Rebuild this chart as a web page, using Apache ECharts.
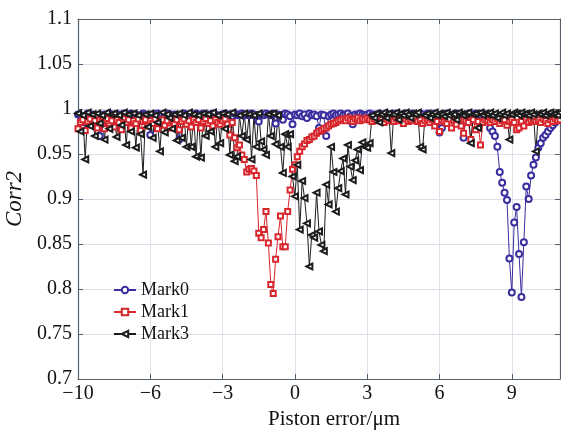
<!DOCTYPE html>
<html>
<head>
<meta charset="utf-8">
<script src="https://cdn.jsdelivr.net/npm/echarts@6/dist/echarts.min.js"></script>
<style>
  html, body { margin: 0; padding: 0; background: #fff; }
  #chart { width: 561px; height: 430px; }
</style>
</head>
<body>
<div id="chart"></div>
<script>
var xs = [
  -9,-8.9,-8.8,-8.7,-8.6,-8.5,-8.4,-8.3,-8.2,-8.1,
  -8,-7.9,-7.8,-7.7,-7.6,-7.5,-7.4,-7.3,-7.2,-7.1,
  -7,-6.9,-6.8,-6.7,-6.6,-6.5,-6.4,-6.3,-6.2,-6.1,
  -6,-5.9,-5.8,-5.7,-5.6,-5.5,-5.4,-5.3,-5.2,-5.1,
  -5,-4.9,-4.8,-4.7,-4.6,-4.5,-4.4,-4.3,-4.2,-4.1,
  -4,-3.9,-3.8,-3.7,-3.6,-3.5,-3.4,-3.3,-3.2,-3.1,
  -3,-2.9,-2.8,-2.7,-2.6,-2.5,-2.4,-2.3,-2.2,-2.1,
  -2,-1.9,-1.8,-1.7,-1.6,-1.5,-1.4,-1.3,-1.2,-1.1,
  -1,-0.9,-0.8,-0.7,-0.6,-0.5,-0.4,-0.3,-0.2,-0.1,
  0,0.1,0.2,0.3,0.4,0.5,0.6,0.7,0.8,0.9,
  1,1.1,1.2,1.3,1.4,1.5,1.6,1.7,1.8,1.9,
  2,2.1,2.2,2.3,2.4,2.5,2.6,2.7,2.8,2.9,
  3,3.1,3.2,3.3,3.4,3.5,3.6,3.7,3.8,3.9,
  4,4.1,4.2,4.3,4.4,4.5,4.6,4.7,4.8,4.9,
  5,5.1,5.2,5.3,5.4,5.5,5.6,5.7,5.8,5.9,
  6,6.1,6.2,6.3,6.4,6.5,6.6,6.7,6.8,6.9,
  7,7.1,7.2,7.3,7.4,7.5,7.6,7.7,7.8,7.9,
  8,8.1,8.2,8.3,8.4,8.5,8.6,8.7,8.8,8.9,
  9,9.1,9.2,9.3,9.4,9.5,9.6,9.7,9.8,9.9,
  10,10.1,10.2,10.3,10.4,10.5,10.6,10.7,10.8,10.9,11
];

var mark0 = [
  .994,.993,.979,.992,.995,.993,.994,.990,.992,.970,
  .993,.994,.992,.995,.993,.994,.991,.994,.993,.995,
  .994,.992,.995,.993,.994,.990,.993,.995,.994,.992,
  .971,.993,.994,.995,.992,.994,.993,.995,.994,.993,
  .994,.992,.966,.993,.995,.994,.992,.994,.993,.995,
  .993,.994,.995,.992,.994,.993,.995,.994,.990,.993,
  .994,.995,.993,.994,.992,.995,.993,.994,.995,.993,
  .994,.993,.995,.994,.992,.986,.994,.993,.995,.994,
  .993,.995,.984,.994,.993,.988,.995,.994,.992,.983,
  .994,.993,.995,.992,.994,.990,.995,.993,.994,.992,
  .979,.994,.993,.970,.992,.994,.995,.993,.994,.995,
  .993,.994,.995,.992,.983,.994,.993,.995,.994,.993,
  .994,.995,.993,.994,.992,.995,.994,.993,.995,.994,
  .993,.994,.995,.993,.994,.992,.995,.994,.993,.995,
  .994,.993,.995,.994,.992,.995,.993,.994,.995,.993,
  .974,.979,.994,.995,.993,.983,.994,.995,.993,.994,
  .968,.993,.995,.994,.992,.995,.994,.993,.995,.990,
  .993,.979,.975,.970,.958,.930,.918,.907,.899,.834,
  .796,.874,.891,.839,.791,.852,.914,.900,.926,.938,
  .946,.957,.962,.968,.971,.975,.979,.982,.985,.990,.993
];

var mark1 = [
  .978,.985,.988,.976,.986,.989,.982,.987,.979,.988,
  .986,.978,.989,.984,.987,.980,.988,.985,.977,.989,
  .985,.988,.979,.987,.984,.989,.976,.986,.988,.981,
  .987,.984,.989,.978,.986,.988,.982,.987,.979,.989,
  .984,.988,.977,.986,.989,.983,.987,.980,.988,.985,
  .988,.979,.986,.989,.984,.987,.981,.988,.985,.983,
  .987,.989,.983,.971,.985,.968,.957,.960,.949,.944,
  .930,.933,.934,.931,.926,.862,.857,.866,.886,.851,
  .805,.795,.833,.858,.881,.847,.847,.886,.910,.933,
  .938,.947,.953,.958,.961,.965,.966,.969,.970,.973,
  .975,.976,.978,.979,.981,.983,.984,.985,.987,.988,
  .989,.987,.990,.988,.986,.989,.990,.987,.989,.988,
  .990,.988,.986,.989,.987,.990,.988,.985,.989,.987,
  .988,.986,.989,.987,.988,.984,.989,.986,.988,.987,
  .989,.986,.988,.984,.987,.989,.985,.988,.981,.986,
  .975,.988,.986,.984,.989,.979,.987,.983,.988,.981,
  .973,.987,.985,.966,.988,.977,.986,.960,.985,.988,
  .987,.985,.988,.986,.989,.984,.987,.988,.982,.986,
  .988,.985,.977,.979,.986,.981,.988,.985,.987,.989,
  .986,.988,.985,.989,.987,.984,.988,.986,.989,.987,.988
];

var mark3 = [
  .995,.975,.993,.944,.996,.981,.994,.970,.995,.984,
  .993,.966,.996,.978,.994,.995,.969,.993,.982,.996,
  .960,.994,.975,.995,.957,.993,.972,.927,.994,.980,
  .995,.968,.993,.985,.953,.996,.974,.994,.990,.978,
  .994,.965,.995,.968,.993,.958,.996,.958,.994,.947,
  .993,.946,.995,.970,.994,.975,.996,.958,.993,.962,
  .995,.978,.994,.949,.996,.942,.947,.993,.970,.995,
  .966,.994,.944,.993,.958,.995,.964,.955,.949,.994,
  .970,.995,.961,.993,.958,.929,.972,.958,.972,.925,
  .903,.938,.866,.920,.901,.873,.825,.860,.857,.907,
  .864,.849,.842,.916,.894,.958,.930,.886,.912,.931,
  .945,.905,.960,.936,.921,.943,.955,.932,.963,.958,
  .957,.962,.993,.990,.995,.985,.994,.996,.990,.995,
  .951,.994,.996,.988,.995,.993,.996,.994,.990,.995,
  .994,.996,.958,.955,.993,.995,.990,.994,.996,.993,
  .995,.994,.992,.996,.993,.995,.994,.988,.996,.994,
  .993,.995,.996,.962,.994,.995,.979,.996,.993,.995,
  .994,.996,.993,.995,.990,.994,.996,.993,.995,.966,
  .994,.996,.995,.993,.996,.994,.995,.993,.996,.994,
  .953,.995,.994,.996,.993,.995,.996,.994,.995,.993,.996
];

var seriesNames = ['Mark0', 'Mark1', 'Mark3'];
var xTickValues = [-9, -6, -3, 0, 3, 6, 9];
var xTickLabels = ['\u221210', '\u22126', '\u22123', '0', '3', '6', '9'];
var yTickLabels = ['0.7', '0.75', '0.8', '0.85', '0.9', '0.95', '1', '1.05', '1.1'];

var font = '"Liberation Serif", "DejaVu Serif", serif';
var frameColor = '#56606b';
var gridColor = '#dde0ea';

function pairs(ys) {
  return xs.map(function(x, i) { return [x, ys[i]]; });
}

function xLabel(v) {
  var k = xTickValues.indexOf(Math.round(v));
  return k < 0 ? '' : xTickLabels[k];
}
function yLabel(v) {
  var k = Math.round((v - 0.7) / 0.05);
  return yTickLabels[k] || '';
}

var frameAxis = {
  axisLine: { show: true, onZero: false, lineStyle: { color: frameColor, width: 1.2 } },
  axisTick: { show: true, inside: true, length: 5, lineStyle: { color: frameColor } },
  axisLabel: { show: false },
  splitLine: { show: false }
};

var myChart = echarts.init(document.getElementById('chart'));

var option = {
  animation: false,
  backgroundColor: '#fff',
  grid: { left: 78, right: 1, top: 19, bottom: 51, containLabel: false, outerBoundsMode: 'none' },
  legend: {
    orient: 'vertical',
    left: 113,
    top: 281,
    padding: 0,
    itemGap: 4,
    itemWidth: 22,
    itemHeight: 8,
    textStyle: { fontFamily: font, fontSize: 18, color: '#111', lineHeight: 18 },
    data: seriesNames
  },
  xAxis: [
    {
      type: 'value', min: -9, max: 11, interval: 3, position: 'bottom',
      name: 'Piston error/\u03bcm', nameLocation: 'middle', nameGap: 25,
      nameTextStyle: { fontFamily: font, fontSize: 21, color: '#111', padding: [0, 0, 0, 30] },
      axisLine: { show: true, onZero: false, lineStyle: { color: frameColor, width: 1.2 } },
      axisTick: { show: true, inside: true, length: 5, lineStyle: { color: frameColor } },
      axisLabel: { fontFamily: font, fontSize: 20, color: '#111', margin: 5, showMaxLabel: false, formatter: xLabel },
      splitLine: { show: true, lineStyle: { color: gridColor, width: 1 } }
    },
    Object.assign({ type: 'value', min: -9, max: 11, interval: 3, position: 'top' }, frameAxis)
  ],
  yAxis: [
    {
      type: 'value', min: 0.7, max: 1.1, interval: 0.05, position: 'left',
      name: 'Corr2', nameLocation: 'middle', nameGap: 49,
      nameTextStyle: { fontFamily: font, fontSize: 23, fontStyle: 'italic', color: '#111' },
      axisLine: { show: true, onZero: false, lineStyle: { color: frameColor, width: 1.2 } },
      axisTick: { show: true, inside: true, length: 5, lineStyle: { color: frameColor } },
      axisLabel: { fontFamily: font, fontSize: 20, color: '#111', margin: 6, formatter: yLabel },
      splitLine: { show: true, lineStyle: { color: gridColor, width: 1 } }
    },
    Object.assign({ type: 'value', min: 0.7, max: 1.1, interval: 0.05, position: 'right' }, frameAxis)
  ],
  series: [
    {
      name: seriesNames[0], type: 'line', data: pairs(mark0),
      symbol: 'emptyCircle', symbolSize: 6,
      lineStyle: { color: '#3a2e9e', width: 1 },
      itemStyle: { color: '#3a2e9e', borderWidth: 1 }
    },
    {
      name: seriesNames[1], type: 'line', data: pairs(mark1),
      symbol: 'emptyRect', symbolSize: 5,
      lineStyle: { color: '#d8262d', width: 1 },
      itemStyle: { color: '#d8262d', borderWidth: 1 }
    },
    {
      name: seriesNames[2], type: 'line', data: pairs(mark3),
      symbol: 'emptyTriangle', symbolSize: 6, symbolRotate: 90,
      lineStyle: { color: '#1c1c1c', width: 1 },
      itemStyle: { color: '#1c1c1c', borderWidth: 1 }
    }
  ]
};

myChart.setOption(option);
</script>
</body>
</html>
